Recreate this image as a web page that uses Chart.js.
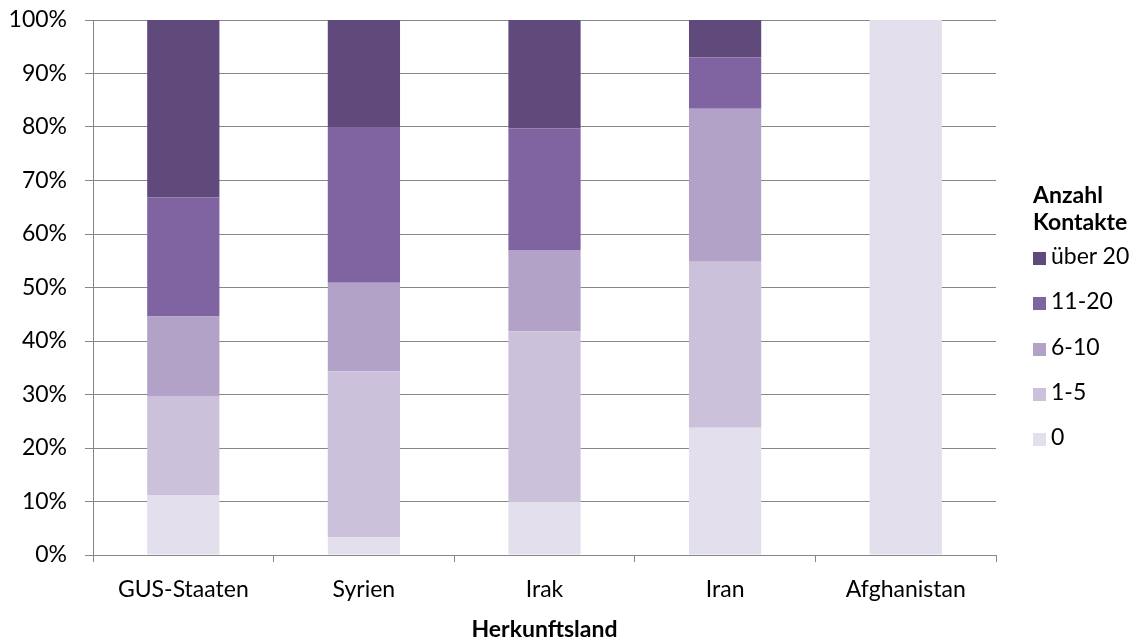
<!DOCTYPE html>
<html>
<head>
<meta charset="utf-8">
<script src="https://cdn.jsdelivr.net/npm/chart.js@4.4.1/dist/chart.umd.min.js"></script>
<style>
  html, body { margin: 0; padding: 0; background: #fff; }
  #wrap { position: relative; width: 1144px; height: 643px; font-family: Lato, "Open Sans", sans-serif; color: #000; }
  #legend { position: absolute; left: 1033px; top: 181px; font-size: 23px; }
  #legend .title { font-weight: bold; line-height: 27px; }
  #legend .item { position: absolute; left: 0; white-space: nowrap; line-height: 24px; }
  #legend .box { display: inline-block; width: 13px; height: 13px; margin-right: 5px; vertical-align: -1px; }
</style>
</head>
<body>
<div id="wrap">
  <canvas id="kontakteChart" width="1144" height="643"></canvas>
  <div id="legend"></div>
</div>
<script>
const countries = ["GUS-Staaten", "Syrien", "Irak", "Iran", "Afghanistan"]
const seriesNames = ["0", "1-5", "6-10", "11-20", "über 20"]
const seriesColors = ["#E4DFEC", "#CBC1DB", "#B3A2C7", "#8064A2", "#604A7B"]

// Anteile in Prozent, je Herkunftsland
const kontakte0 = [11.2, 3.3, 10.0, 23.8, 100]
const kontakte1bis5 = [18.5, 31.0, 31.8, 31.0, 0]
const kontakte6bis10 = [14.9, 16.6, 15.2, 28.6, 0]
const kontakte11bis20 = [22.2, 29.1, 22.7, 9.6, 0]
const kontakteUeber20 = [33.2, 20.0, 20.3, 7.0, 0]

const yTicks = [0, 10, 20, 30, 40, 50, 60, 70, 80, 90, 100]
const xTitle = "Herkunftsland"
const legendTitle = ["Anzahl", "Kontakte"]

const seriesValues = [kontakte0, kontakte1bis5, kontakte6bis10, kontakte11bis20, kontakteUeber20]
const gridColor = "#878787"
const font = { family: "Lato, 'Open Sans', sans-serif", size: 23 }

const datasets = seriesNames.map((name, i) => ({
  label: name,
  data: seriesValues[i],
  backgroundColor: seriesColors[i],
  borderWidth: 0,
  barPercentage: 0.4,
  categoryPercentage: 1.0,
}))

function initChart() {
  const ctx = document.getElementById("kontakteChart").getContext("2d")
  new Chart(ctx, {
    type: "bar",
    data: { labels: countries, datasets: datasets },
    options: {
      responsive: false,
      animation: false,
      layout: { padding: { top: 20, right: 148, left: 0, bottom: 0 } },
      plugins: { legend: { display: false }, tooltip: { enabled: false } },
      scales: {
        x: {
          stacked: true,
          grid: { drawOnChartArea: false, drawTicks: true, tickLength: 7, color: gridColor, offset: true },
          border: { color: gridColor, width: 1 },
          ticks: { color: "#000", font: font, padding: 14 },
          title: { display: true, text: xTitle, color: "#000", font: { ...font, weight: "bold" }, padding: { top: 4, bottom: 0 } },
          afterFit: (scale) => {
            scale.height = 88
            scale.paddingLeft = 0
            scale.paddingRight = 0
          },
        },
        y: {
          stacked: true,
          min: 0,
          max: 100,
          afterBuildTicks: (scale) => { scale.ticks = yTicks.map((v) => ({ value: v })) },
          grid: { color: gridColor, tickLength: 8, lineWidth: 1 },
          border: { color: gridColor, width: 1 },
          ticks: { color: "#000", font: font, padding: 18, callback: (v) => v + "%" },
          afterFit: (scale) => {
            scale.width = 93
            scale.paddingTop = 0
            scale.paddingBottom = 0
          },
        },
      },
    },
  })
}

function buildLegend() {
  const legend = document.getElementById("legend")
  legendTitle.forEach((t) => {
    const d = document.createElement("div")
    d.className = "title"
    d.textContent = t
    legend.appendChild(d)
  })
  // umgekehrte Reihenfolge wie im Stapel
  for (let i = seriesNames.length - 1, row = 0; i >= 0; i--, row++) {
    const item = document.createElement("div")
    item.className = "item"
    item.style.top = 62 + row * 45.3 + "px"
    const box = document.createElement("span")
    box.className = "box"
    box.style.background = seriesColors[i]
    item.appendChild(box)
    item.appendChild(document.createTextNode(seriesNames[i]))
    legend.appendChild(item)
  }
}

document.addEventListener("DOMContentLoaded", () => {
  initChart()
  buildLegend()
})
</script>
</body>
</html>
